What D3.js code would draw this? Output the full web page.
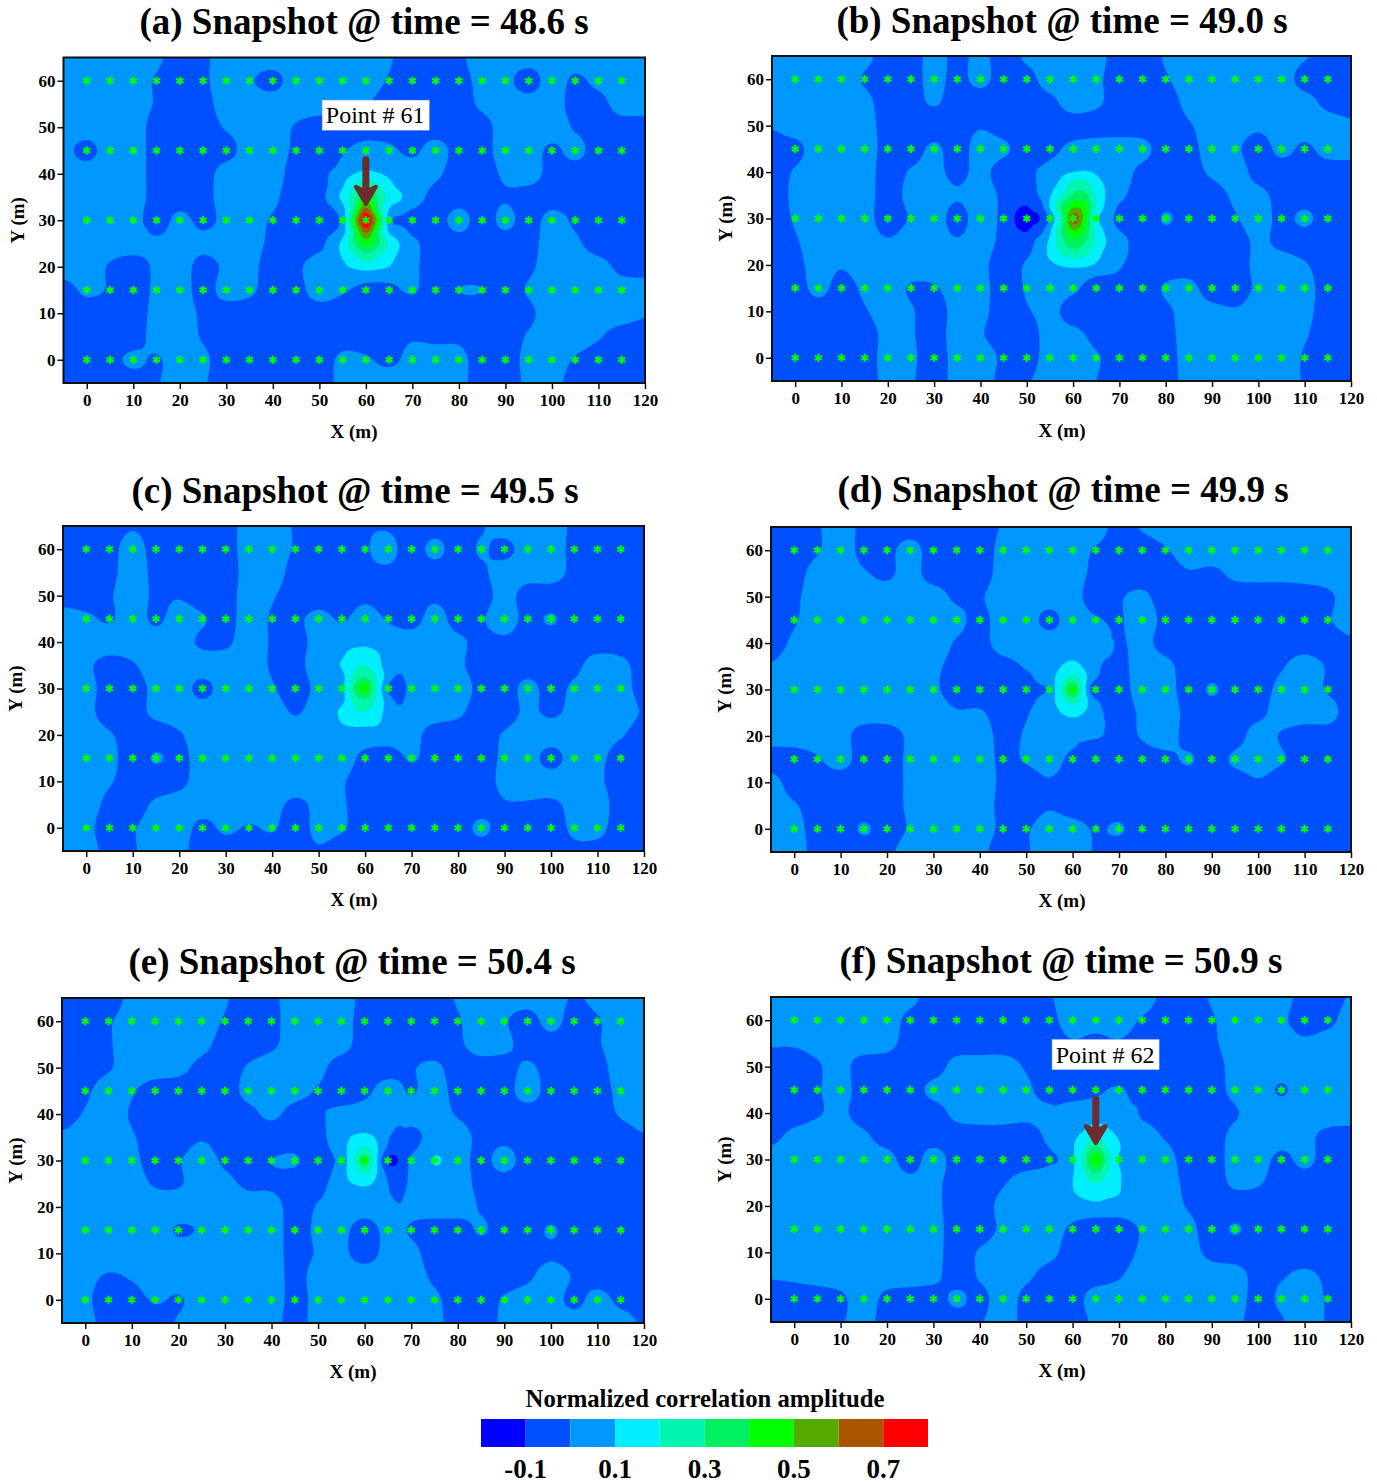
<!DOCTYPE html>
<meta charset="utf-8">
<style>
html, body { margin: 0; background: #fff; }
svg { display: block; }
text { font-family: "Liberation Serif", serif; font-weight: bold; fill: #000; }
</style>
<body>
<script src="https://cdn.jsdelivr.net/npm/d3@7"></script>
<script>

// amplitude x 100, read at x = -5, 0, 5 ... 120 (columns) and y = 65, 60 ... -5 (rows)
var fieldA = [
[5,5,5,5,2,-5,-2,5,5,5,5,5,5,5,1,-5,-5,-2,5,5,5,5,5,5,5,5],
[5,5,5,5,-1,-5,-2,5,1,-3,5,5,5,5,-1,-5,-5,-4,3,3,-5,5,-2,3,5,5],
[5,5,5,5,-1,-5,-4,5,5,5,5,5,5,1,-5,-5,-5,-5,2,5,5,5,-4,-4,5,5],
[5,5,5,5,-4,-5,-5,1,5,5,-1,-5,-5,-5,-5,-5,-5,-5,-4,5,5,5,-1,-5,-5,-5],
[3,-3,5,5,-4,-5,-5,-4,5,5,-2,-5,-1,4,2,-2,4,-4,-4,5,5,-2,3,-5,-5,-5],
[5,5,5,5,-4,-5,-5,5,5,5,-5,-5,3,5,5,5,2,-5,-5,2,5,-4,-5,-5,-5,-5],
[5,5,5,5,-4,-5,-4,5,5,2,-5,-2,5,5,5,5,-4,-5,-5,-1,-5,-5,-5,-5,-5,-5],
[5,5,5,4,-5,3,-3,3,5,-1,-1,-5,3,5,3,-4,-5,4,-5,3,-5,4,-2,-5,-5,-5],
[5,5,5,5,2,5,3,5,5,-3,-5,-3,5,5,5,2,-5,-5,-5,-5,-4,5,2,-5,-5,-5],
[5,5,-1,-5,2,5,-4,2,3,-5,-2,5,5,5,5,2,-5,-5,-5,-5,-2,5,5,4,-3,-5],
[-4,2,-1,-5,2,5,-4,4,2,-5,-4,5,1,-2,-2,1,-5,0,0,-5,1,5,5,5,5,5],
[-5,-5,-5,-5,3,5,-2,-5,-5,-5,-5,-5,-5,-5,-5,-5,-5,-5,-5,-5,-2,5,5,5,5,1],
[-5,-5,-5,-5,4,5,-1,-5,-5,-5,-5,-5,-4,-4,-3,-1,-2,-2,-5,-5,1,5,5,1,-5,-5],
[-5,-5,-3,2,-1,5,2,-5,-5,-5,-5,-5,2,1,-2,3,4,3,-5,-5,3,5,-1,-5,-5,-5],
[-5,-5,-5,-5,-1,5,1,-5,-5,-5,-5,-5,3,5,5,5,5,3,-5,-5,2,3,-4,-5,-5,-5]
];
var fieldB = [
[5,5,5,5,3,-5,-5,4,-3,3,-5,2,5,5,4,-5,-5,1,5,5,5,5,5,1,-5,-5],
[5,5,5,5,-1,-5,-4,3,-3,3,-5,-4,5,5,2,-5,-5,-1,5,5,5,5,5,-4,-5,-5],
[5,5,5,5,3,-5,-4,1,-5,-5,-5,-5,-3,5,2,-5,-5,-5,3,5,5,5,5,4,-3,-5],
[1,5,5,5,4,-4,-5,-5,-5,-1,-5,-5,-5,-5,-5,-5,-5,-5,-1,5,5,2,5,5,5,2],
[-5,-3,5,5,5,-4,-5,2,-5,5,2,-5,-3,3,5,5,3,-5,-4,5,2,-5,3,-2,4,4],
[-5,1,5,5,5,-5,1,3,-3,3,-5,-5,3,5,5,5,-3,-5,-5,2,5,-4,-5,-5,-5,-5],
[-5,2,5,5,4,-4,3,5,1,5,-2,-5,3,5,5,2,-5,-5,-5,-5,2,3,-4,-5,-5,-5],
[-5,1,5,5,4,-5,1,5,-4,5,-3,-15,2,5,5,-3,-7,1,-5,-5,-1,5,-3,2,-5,-5],
[-5,-1,5,5,5,1,5,5,1,5,-3,-5,3,5,5,3,-5,-5,-5,-5,-5,2,-3,-5,-5,-5],
[-5,-3,4,1,5,5,5,5,5,3,-5,1,5,5,5,1,-5,-5,-5,-5,-5,3,5,1,-5,-5],
[-5,-5,3,-4,2,5,-1,-1,5,4,-5,1,5,2,-5,-5,-5,1,3,-5,-5,2,5,4,-5,-5],
[-5,-5,-5,-5,-1,5,1,-5,4,3,-5,-1,3,-5,-5,-5,-5,-2,4,3,1,4,5,3,-5,-5],
[-5,-5,-5,-5,-5,3,1,-5,5,1,-5,-5,4,3,-3,-5,-5,-3,4,5,5,5,5,1,-5,-5],
[-5,-5,-5,-5,-5,4,2,-5,4,5,-2,-5,5,5,1,-5,-5,-5,5,5,5,5,5,-1,-5,-5],
[-5,-5,-5,-5,-5,3,1,-5,4,5,-3,-1,5,5,0,-5,-5,-5,4,5,5,5,5,-1,-5,-5]
];
var fieldC = [
[-5,-5,-5,-1,-5,-5,-5,-5,5,5,-1,-5,-5,-1,-1,-5,-5,-5,-1,5,5,5,-2,-5,-5,-5],
[-5,-5,-4,5,-5,-5,-5,-5,5,5,-1,-5,-5,-1,3,-5,3,-5,1,-3,5,5,-3,-5,-5,-5],
[-5,-5,-3,5,-3,-5,-5,-5,4,5,-4,-5,-5,-2,-2,-5,-5,-5,-2,5,5,5,-3,-5,-5,-5],
[-5,-5,-1,5,-2,-1,-5,-5,5,1,-5,-5,-5,-2,-5,-5,-2,-5,-5,4,-5,-5,-5,-5,-5,-5],
[5,2,-1,5,-2,5,1,-4,5,-1,-2,3,-1,4,-1,-4,4,-4,-1,5,-3,1,-5,-5,-5,-5],
[5,5,5,5,5,5,-2,-2,5,-1,-4,4,5,5,5,5,5,2,-3,-2,-5,-5,-5,-5,-5,-5],
[5,2,-4,-1,5,5,5,5,5,-1,-3,5,5,5,5,5,5,2,-5,-5,-5,-5,-3,5,3,-5],
[5,4,-5,-5,3,5,-3,5,5,1,-5,3,5,5,-3,3,5,5,-3,-5,3,-4,2,5,5,-5],
[5,3,-5,-5,3,5,5,5,5,5,-1,5,5,5,5,5,5,2,-5,-5,2,-2,3,5,5,-1],
[5,5,1,-5,-5,-1,5,5,5,5,5,5,5,5,5,4,-5,-5,-5,1,5,5,5,5,1,-5],
[5,5,3,-5,1,-3,5,5,5,5,5,5,5,-3,-5,1,-5,-5,-5,2,5,-4,5,3,-5,-5],
[5,5,1,-5,-5,-3,5,5,5,5,5,5,1,-5,-5,-5,-5,-5,-5,3,5,5,5,2,-5,-5],
[5,5,-3,-5,2,5,5,5,5,3,-2,2,1,-5,-5,-5,-5,-5,-5,-1,-1,-2,3,5,-5,-5],
[5,3,-5,-1,5,5,-3,2,-1,1,-5,3,1,-5,-5,-5,-5,-5,2,-5,-5,-5,2,3,-5,-5],
[5,4,-3,-1,5,3,-5,-5,-5,-5,-5,-1,-5,-5,-5,-5,-5,-5,-5,-5,-5,-5,-2,-3,-5,-5]
];
var fieldD = [
[-5,-5,-1,5,-3,-5,-5,-5,-5,-5,1,5,5,5,5,-4,1,5,5,5,5,5,5,5,5,5],
[-5,-5,-1,5,-3,-3,4,-5,-5,-5,3,5,5,5,-1,-5,-5,-1,5,5,2,5,5,5,5,5],
[-5,-4,4,5,1,-2,4,-5,-5,-5,4,5,5,5,-3,-5,-5,-5,-1,-2,2,3,3,4,5,5],
[-5,-2,5,5,5,5,5,5,-2,-1,5,5,5,4,-5,-1,2,-5,-5,-5,-5,-5,-5,-5,-2,5],
[-5,-1,5,5,5,5,5,5,3,-3,5,5,-3,5,1,-1,5,-3,-5,-5,-5,-5,-5,-5,-1,5],
[-5,2,5,5,5,5,5,5,-1,-4,5,5,5,5,5,-1,3,-4,-5,-5,-5,-5,-5,-5,-5,-2],
[1,5,5,5,5,5,5,2,-3,-5,-4,1,5,5,3,-3,5,3,-5,-5,-5,-5,-1,5,-1,-5],
[5,5,5,5,5,5,5,2,-5,-5,-5,-5,3,5,-6,-5,5,5,-5,1,-5,-5,3,5,-1,-5],
[5,5,5,5,5,5,5,5,1,1,-4,-1,5,5,3,-5,2,5,-3,-5,-5,-3,5,5,4,-5],
[5,5,5,4,-5,-5,2,5,5,5,-3,1,5,4,-5,-5,1,5,-4,-5,-5,5,-1,-5,-5,-5],
[-5,-5,-1,4,-5,-5,2,3,5,5,-2,1,5,-3,-5,-5,-5,-3,1,-5,2,5,1,-5,-5,-5],
[4,-5,-5,-5,-5,-5,2,5,5,5,-2,-5,-1,-5,-5,-5,-5,-5,-5,-5,-5,-1,-5,-5,-5,-5],
[5,1,-5,-5,-5,-5,2,5,5,5,-3,-5,-1,-5,-5,-5,-5,-5,-5,-5,-5,-5,-5,-5,-5,-5],
[5,4,-5,-5,1,-4,1,5,5,5,-2,-1,5,4,-1,1,-5,-5,-5,-5,-5,-5,-5,-5,-5,-5],
[5,5,-4,-5,-5,-2,4,5,5,3,-5,-1,5,5,-1,-5,-5,-5,-5,-5,-5,-5,-5,-5,-5,-5]
];
var fieldE = [
[-5,-5,-5,3,5,5,5,1,-5,-2,4,5,5,-3,-5,-5,-5,1,5,5,5,5,-1,3,5,5],
[-5,-5,-1,4,5,5,5,-1,-5,-3,5,5,5,-5,-5,-5,-5,-1,5,1,-5,4,-5,-1,5,5],
[-5,-5,-1,5,5,5,3,-4,-5,-2,5,5,4,-5,-5,-5,-5,-2,5,3,-5,-5,-5,-1,5,5],
[-5,-5,-1,5,5,3,-3,-5,1,5,5,3,-5,-5,-5,-1,2,-5,-5,-5,2,-5,-5,-4,5,5],
[-5,-2,5,1,-5,-5,-5,-5,3,5,4,-1,-5,-3,5,-1,5,-4,-5,-5,5,-5,-5,-5,3,5],
[-5,1,5,-1,-5,-5,-5,-5,-3,2,-4,-5,1,5,5,5,5,-1,-5,-5,-5,-5,-5,-5,1,5],
[2,5,5,1,-5,-5,-1,-5,-5,-5,-5,-5,2,5,-1,-4,5,5,-3,-3,-5,-5,-5,-5,-5,-1],
[5,5,5,3,-5,-1,5,-2,-5,0,1,-5,2,5,-9,1,10.5,5,-3,4,-5,-5,-5,-5,-5,-5],
[5,5,5,5,-1,-1,5,3,-2,-2,-5,-4,3,5,-1,1,5,5,-3,-5,-5,-5,-5,-5,-5,-5],
[5,5,5,5,5,5,5,5,5,5,-5,1,5,5,5,3,5,5,-1,-5,-5,-5,-5,-5,-5,-5],
[5,5,5,5,5,-1,1,5,5,5,-4,2,3,-5,3,-1,-5,-5,1,-5,-5,1,-5,-5,-5,-5],
[5,5,5,5,5,5,5,5,5,5,-4,1,2,-4,3,3,-5,-5,-5,-5,-5,-2,-5,-5,-5,-5],
[5,3,-1,1,5,5,5,5,5,5,-3,4,5,5,5,5,-2,-5,-5,-5,-2,5,-1,-5,-5,-5],
[5,2,-5,-4,1,-1,5,5,5,5,-3,3,5,5,5,5,2,-5,-5,1,5,5,-3,4,-3,-5],
[5,4,-5,-5,-5,1,5,5,5,5,-5,5,5,5,5,5,3,-5,-5,2,5,5,5,5,5,-2]
];
var fieldF = [
[5,5,5,5,5,5,3,-5,-5,-5,-5,-5,-1,5,5,5,5,-3,-5,1,5,5,5,-5,-5,1],
[5,5,5,5,5,5,-3,-5,-5,-5,-5,-5,-3,5,4,5,-1,-5,-5,-1,5,5,2,-5,-3,5],
[1,1,3,3,5,3,-4,-5,-5,-5,-5,-5,-5,-1,-3,-1,-5,-5,-5,-2,5,5,5,2,5,5],
[-5,-5,-1,3,-5,-5,-5,-5,4,5,5,-1,-5,-5,-5,-5,-5,-5,-5,-5,4,5,5,5,5,5],
[-5,-5,-1,4,-5,-5,-5,3,5,5,5,2,-5,-5,-2,1,-5,-5,-5,-5,3,5,-1,5,5,5],
[-5,-5,-1,2,-5,-5,-5,-5,3,5,5,3,3,5,5,5,-2,-5,-5,-5,-1,5,5,5,5,5],
[-3,3,5,5,2,-5,-5,-5,-5,-5,-5,-5,2,5,5,5,5,-1,-5,-5,3,5,5,3,-3,-4],
[5,5,5,5,5,4,-5,5,-5,-5,-5,-5,-1,5,5,5,5,4,-5,-5,4,5,-3,3,-5,-5],
[5,5,5,5,5,5,3,3,-5,-5,-1,5,5,5,5,5,5,5,-3,-5,2,1,-5,-5,-5,-5],
[5,5,5,5,5,5,5,3,-5,-5,3,5,5,5,5,5,5,5,-1,-5,-5,-5,-5,-5,-5,-5],
[5,5,5,5,5,5,5,4,-5,-5,2,5,5,-2,-5,-5,1,5,3,-5,1,-5,-5,-5,-5,-5],
[5,5,5,5,5,5,5,4,-5,1,5,5,3,-5,-5,-5,2,5,4,-3,-5,-5,-5,-5,-5,-5],
[1,2,4,5,5,5,5,3,-5,1,5,2,-4,-5,-5,-1,5,5,5,5,5,-4,-1,2,-2,-5],
[-5,-5,-5,-2,5,-3,-5,-5,2,-3,5,-3,-5,-5,5,5,5,5,5,5,5,-4,2,5,-1,-5],
[-5,-5,-5,-1,3,-4,-5,-5,-5,-1,4,-3,-5,-5,2,5,5,5,5,5,3,-5,-1,5,-1,-5]
];

// finer reading round each peak: every 2.5 m, 9 columns by 11 rows, top row first
var peakA = [
[-3,-2,2,6,8,7,5,5,4],
[-2,1,6,10,14,11,8,5,5],
[-3,2,9,20,28,22,13,7,5],
[-3,4,13,27,42,30,17,11,6],
[-3,-1,7,30,62,32,10,5,1],
[-5,-3,4,45,80,47,4,-2,-4],
[-3,-1,6,32,63,34,9,4,1],
[0,4,13,30,43,33,19,9,5],
[1,6,11,20,28,22,14,8,5],
[4,5,8,12,16,13,10,6,3],
[5,5,5,6,7,6,5,4,2]
];
var peakB = [
[-3,-1,3,6,7,7,7,6,5],
[-3,1,5,8,10,11,9,6,4],
[-4,1,6,13,24,24,14,8,4],
[-5,0,9,20,32,33,19,8,3],
[-7,-6,11,32,48,45,19,7,2],
[-12,-11,2,25,66,45,13,5,-2],
[-6,-5,8,30,50,40,17,7,2],
[-2,3,12,27,37,31,18,9,4],
[0,5,12,21,26,23,14,7,5],
[2,5,8,11,13,12,9,6,5],
[3,5,5,6,7,6,5,4,3]
];
var peakC = [
[5,5,5,5,5,4,0,-3,-1],
[5,5,5,6,7,6,5,5,5],
[5,5,8,14,15,11,6,5,5],
[5,5,11,18,20,14,5,5,5],
[5,5,7,22,30,20,5,-2,5],
[5,5,7,30,45,20,-2,-8,3],
[5,5,7,22,29,18,5,-3,5],
[5,5,13,18,20,15,6,3,5],
[5,5,10,12,12,11,6,5,5],
[5,5,5,6,6,6,5,5,5],
[5,5,5,5,5,5,5,5,5]
];
var peakD = [
[5,5,5,5,5,5,2,-2,-1],
[5,5,5,5,5,5,5,2,0],
[5,5,5,7,8,7,5,1,-1],
[1,5,5,10,13,9,3,-3,-3],
[-3,2,6,15,24,13,1,-4,-4],
[-5,-2,2,21,42,14,-10,-5,-5],
[-3,1,6,15,24,14,2,-4,-5],
[0,4,5,10,13,10,4,-2,-5],
[1,5,5,6,7,6,4,-1,-5],
[2,5,5,5,5,5,3,-2,-5],
[2,5,5,0,-2,-4,-5,-5,-5]
];
var peakE = [
[-2,1,2,1,1,3,5,1,1],
[-1,3,5,5,5,5,5,5,5],
[-2,3,5,5,6,5,4,0,3],
[-3,2,6,11,13,9,1,-4,1],
[-3,0,6,15,22,12,-2,-6,2],
[-4,-2,4,18,36,12,-12,-9,1],
[-4,-1,6,15,22,11,-3,-6,2],
[-3,1,7,10,12,8,0,-4,1],
[-2,3,5,5,5,5,1,-2,1],
[0,5,5,5,5,5,4,1,4],
[2,5,3,-2,-4,-2,4,5,3]
];
var peakF = [
[-5,-5,-2,2,4,5,5,3,0],
[3,5,5,6,7,6,5,5,2],
[3,5,6,8,11,9,6,5,4],
[1,5,8,13,20,14,9,5,5],
[-1,3,9,20,33,20,11,6,5],
[-3,1,8,25,48,25,9,5,5],
[-1,3,9,21,33,21,11,6,5],
[1,4,10,15,21,16,11,6,5],
[2,5,9,12,14,12,10,6,5],
[3,5,5,7,8,7,6,5,5],
[5,5,5,5,5,5,5,5,5]
];

var panelNames = ["(a) Snapshot @ time = 48.6 s", "(b) Snapshot @ time = 49.0 s", "(c) Snapshot @ time = 49.5 s",
                  "(d) Snapshot @ time = 49.9 s", "(e) Snapshot @ time = 50.4 s", "(f) Snapshot @ time = 50.9 s"];
var peakColumns = [60, 60, 60, 60, 60, 65];
var sensorX = d3.range(0, 120, 5);
var sensorY = [0, 15, 30, 45, 60];
var xTicks = d3.range(0, 130, 10);
var yTicks = d3.range(0, 70, 10);
var levels = [-20, -10, 0, 10, 20, 30, 40, 50, 60, 70, 80];
var levelColors = ["#0000ff", "#0050ff", "#0098ff", "#00eeff", "#00f5b0", "#00f060", "#00ff00", "#55aa00", "#aa5500", "#ff0000"];
var legendTicks = ["-0.1", "0.1", "0.3", "0.5", "0.7"];
var pointNotes = [
  {panel: 0, x: 60, label: "Point # 61"},
  {panel: 5, x: 65, label: "Point # 62"}
];

var fields = [fieldA, fieldB, fieldC, fieldD, fieldE, fieldF];
var peaks = [peakA, peakB, peakC, peakD, peakE, peakF];

// where each frame sits in the photographed figure
var frames = [
  {left: 63.5, right: 645, top: 57.5, bottom: 383, titleX: 364, titleY: 34, labelX: 354, labelY: 438, yLabelX: 24},
  {left: 772, right: 1351, top: 56, bottom: 381, titleX: 1062, titleY: 33, labelX: 1062, labelY: 437, yLabelX: 732},
  {left: 63, right: 644, top: 526, bottom: 851, titleX: 355, titleY: 503, labelX: 354, labelY: 906, yLabelX: 22},
  {left: 771, right: 1351, top: 527, bottom: 852, titleX: 1063, titleY: 502, labelX: 1062, labelY: 907, yLabelX: 731},
  {left: 62, right: 644, top: 998, bottom: 1323, titleX: 352, titleY: 974, labelX: 353, labelY: 1378, yLabelX: 22},
  {left: 771, right: 1351, top: 997, bottom: 1322, titleX: 1061, titleY: 973, labelX: 1062, labelY: 1377, yLabelX: 731}
];

var svg = d3.select("body").append("svg")
    .attr("width", 1377)
    .attr("height", 1484);

var defs = svg.append("defs");

// catmull-rom through four neighbours
function cubic(a, b, c, d, t) {
  return b + 0.5 * t * (c - a + t * (2 * a - 5 * b + 4 * c - d + t * (3 * (b - c) + d - a)));
}

function sample(table, u, v) {
  var rows = table.length, cols = table[0].length;
  var i = Math.min(Math.floor(u), cols - 2), j = Math.min(Math.floor(v), rows - 2);
  var tu = u - i, tv = v - j;
  var at = function(r, c) {
    return table[Math.max(0, Math.min(rows - 1, r))][Math.max(0, Math.min(cols - 1, c))];
  };
  var line = [-1, 0, 1, 2].map(function(dr) {
    return cubic(at(j + dr, i - 1), at(j + dr, i), at(j + dr, i + 1), at(j + dr, i + 2), tu);
  });
  return cubic(line[0], line[1], line[2], line[3], tv);
}

function amplitude(index, x, y) {
  var value = sample(fields[index], (x + 5) / 5, (65 - y) / 5);
  var dx = 10 - Math.abs(x - peakColumns[index]), dy = 12.5 - Math.abs(y - 30);
  if (dx <= 0 || dy <= 0) return value;
  var w = Math.min(1, Math.min(dx, dy) / 2.5);
  w = w * w * (3 - 2 * w);
  var fine = sample(peaks[index], (x - peakColumns[index] + 10) / 2.5, (42.5 - y) / 2.5);
  return value * (1 - w) + fine * w;
}

var nx = 251, ny = 141, cell = 0.5;

frames.forEach(function(f, index) {
  var x = d3.scaleLinear().domain([-5, 120]).range([f.left, f.right]);
  var y = d3.scaleLinear().domain([-5, 65]).range([f.bottom, f.top]);

  var g = svg.append("g");

  defs.append("clipPath")
      .attr("id", "clip" + index)
    .append("rect")
      .attr("x", f.left)
      .attr("y", f.top)
      .attr("width", f.right - f.left)
      .attr("height", f.bottom - f.top);

  var values = new Float64Array(nx * ny);
  for (var j = 0; j < ny; j++) {
    for (var i = 0; i < nx; i++) {
      values[j * nx + i] = amplitude(index, -5 + i * cell, 65 - j * cell);
    }
  }

  var contours = d3.contours()
      .size([nx, ny])
      .thresholds(levels.slice(1, -1))(values);

  var path = d3.geoPath(d3.geoTransform({
    point: function(cx, cy) {
      this.stream.point(x(-5 + (cx - 0.5) * cell), y(65 - (cy - 0.5) * cell));
    }
  }));

  var map = g.append("g").attr("clip-path", "url(#clip" + index + ")");

  map.append("rect")
      .attr("x", f.left)
      .attr("y", f.top)
      .attr("width", f.right - f.left)
      .attr("height", f.bottom - f.top)
      .attr("fill", levelColors[0]);

  map.selectAll("path")
      .data(contours)
    .enter().append("path")
      .attr("d", path)
      .attr("fill", function(d, i) { return levelColors[i + 1]; });

  // sensors
  var star = d3.symbol().type(d3.symbolAsterisk).size(46);
  var sensors = d3.cross(sensorX, sensorY);
  g.append("g").selectAll("path")
      .data(sensors)
    .enter().append("path")
      .attr("d", star)
      .attr("transform", function(d) { return "translate(" + x(d[0]) + "," + y(d[1]) + ")"; })
      .attr("fill", "none")
      .attr("stroke", "#00ff00")
      .attr("stroke-width", 2);

  g.append("rect")
      .attr("x", f.left)
      .attr("y", f.top)
      .attr("width", f.right - f.left)
      .attr("height", f.bottom - f.top)
      .attr("fill", "none")
      .attr("stroke", "#111")
      .attr("stroke-width", 2);

  var xAxis = g.append("g")
      .attr("transform", "translate(0," + f.bottom + ")")
      .call(d3.axisBottom(x).tickValues(xTicks).tickSize(6).tickPadding(5));
  var yAxis = g.append("g")
      .attr("transform", "translate(" + f.left + ",0)")
      .call(d3.axisLeft(y).tickValues(yTicks).tickSize(6).tickPadding(2));

  [xAxis, yAxis].forEach(function(axis) {
    axis.select(".domain").remove();
    axis.selectAll("line").attr("stroke", "#111").attr("stroke-width", 1.5);
    axis.selectAll("text").attr("font-size", 17).attr("font-family", null);
  });

  g.append("text")
      .attr("x", f.titleX)
      .attr("y", f.titleY)
      .attr("text-anchor", "middle")
      .attr("font-size", 37)
      .text(panelNames[index]);

  g.append("text")
      .attr("x", f.labelX)
      .attr("y", f.labelY)
      .attr("text-anchor", "middle")
      .attr("font-size", 19)
      .text("X (m)");

  g.append("text")
      .attr("transform", "translate(" + f.yLabelX + "," + (f.top + f.bottom) / 2 + ")rotate(-90)")
      .attr("text-anchor", "middle")
      .attr("font-size", 19)
      .text("Y (m)");

  pointNotes.filter(function(n) { return n.panel === index; }).forEach(function(n) {
    var bx = x(n.x + 2), by = y(52.6);
    g.append("rect")
        .attr("x", bx - 53)
        .attr("y", by - 15)
        .attr("width", 107)
        .attr("height", 30)
        .attr("fill", "#fff")
        .attr("stroke", "#ccc")
        .attr("stroke-width", 0.5);
    g.append("text")
        .attr("x", bx)
        .attr("y", by + 8)
        .attr("text-anchor", "middle")
        .attr("font-size", 24)
        .style("font-weight", "normal")
        .text(n.label);

    var ax = x(n.x);
    var ay = y(43);
    g.append("line")
        .attr("x1", ax)
        .attr("x2", ax)
        .attr("y1", ay)
        .attr("y2", ay + 34)
        .attr("stroke", "#6b2d2d")
        .attr("stroke-width", 7)
        .attr("stroke-linecap", "round");
    g.append("path")
        .attr("d", d3.line()([[ax - 10, ay + 27], [ax, ay + 44], [ax + 10, ay + 27], [ax, ay + 32]]) + "Z")
        .attr("fill", "#6b2d2d")
        .attr("stroke", "#6b2d2d")
        .attr("stroke-width", 4)
        .attr("stroke-linejoin", "round");
  });
});

// colour key
var key = d3.scaleLinear().domain([-0.2, 0.8]).range([481, 928]);

svg.selectAll(".key")
    .data(levelColors)
  .enter().append("rect")
    .attr("class", "key")
    .attr("x", function(d, i) { return key(levels[i] / 100); })
    .attr("y", 1419)
    .attr("width", function(d, i) { return key(levels[i + 1] / 100) - key(levels[i] / 100); })
    .attr("height", 28)
    .attr("fill", function(d) { return d; });

svg.selectAll(".keytick")
    .data(legendTicks)
  .enter().append("text")
    .attr("class", "keytick")
    .attr("x", function(d) { return key(+d); })
    .attr("y", 1478)
    .attr("text-anchor", "middle")
    .attr("font-size", 27)
    .text(function(d) { return d; });

svg.append("text")
    .attr("x", 705)
    .attr("y", 1407)
    .attr("text-anchor", "middle")
    .attr("font-size", 24.7)
    .text("Normalized correlation amplitude");

</script>
